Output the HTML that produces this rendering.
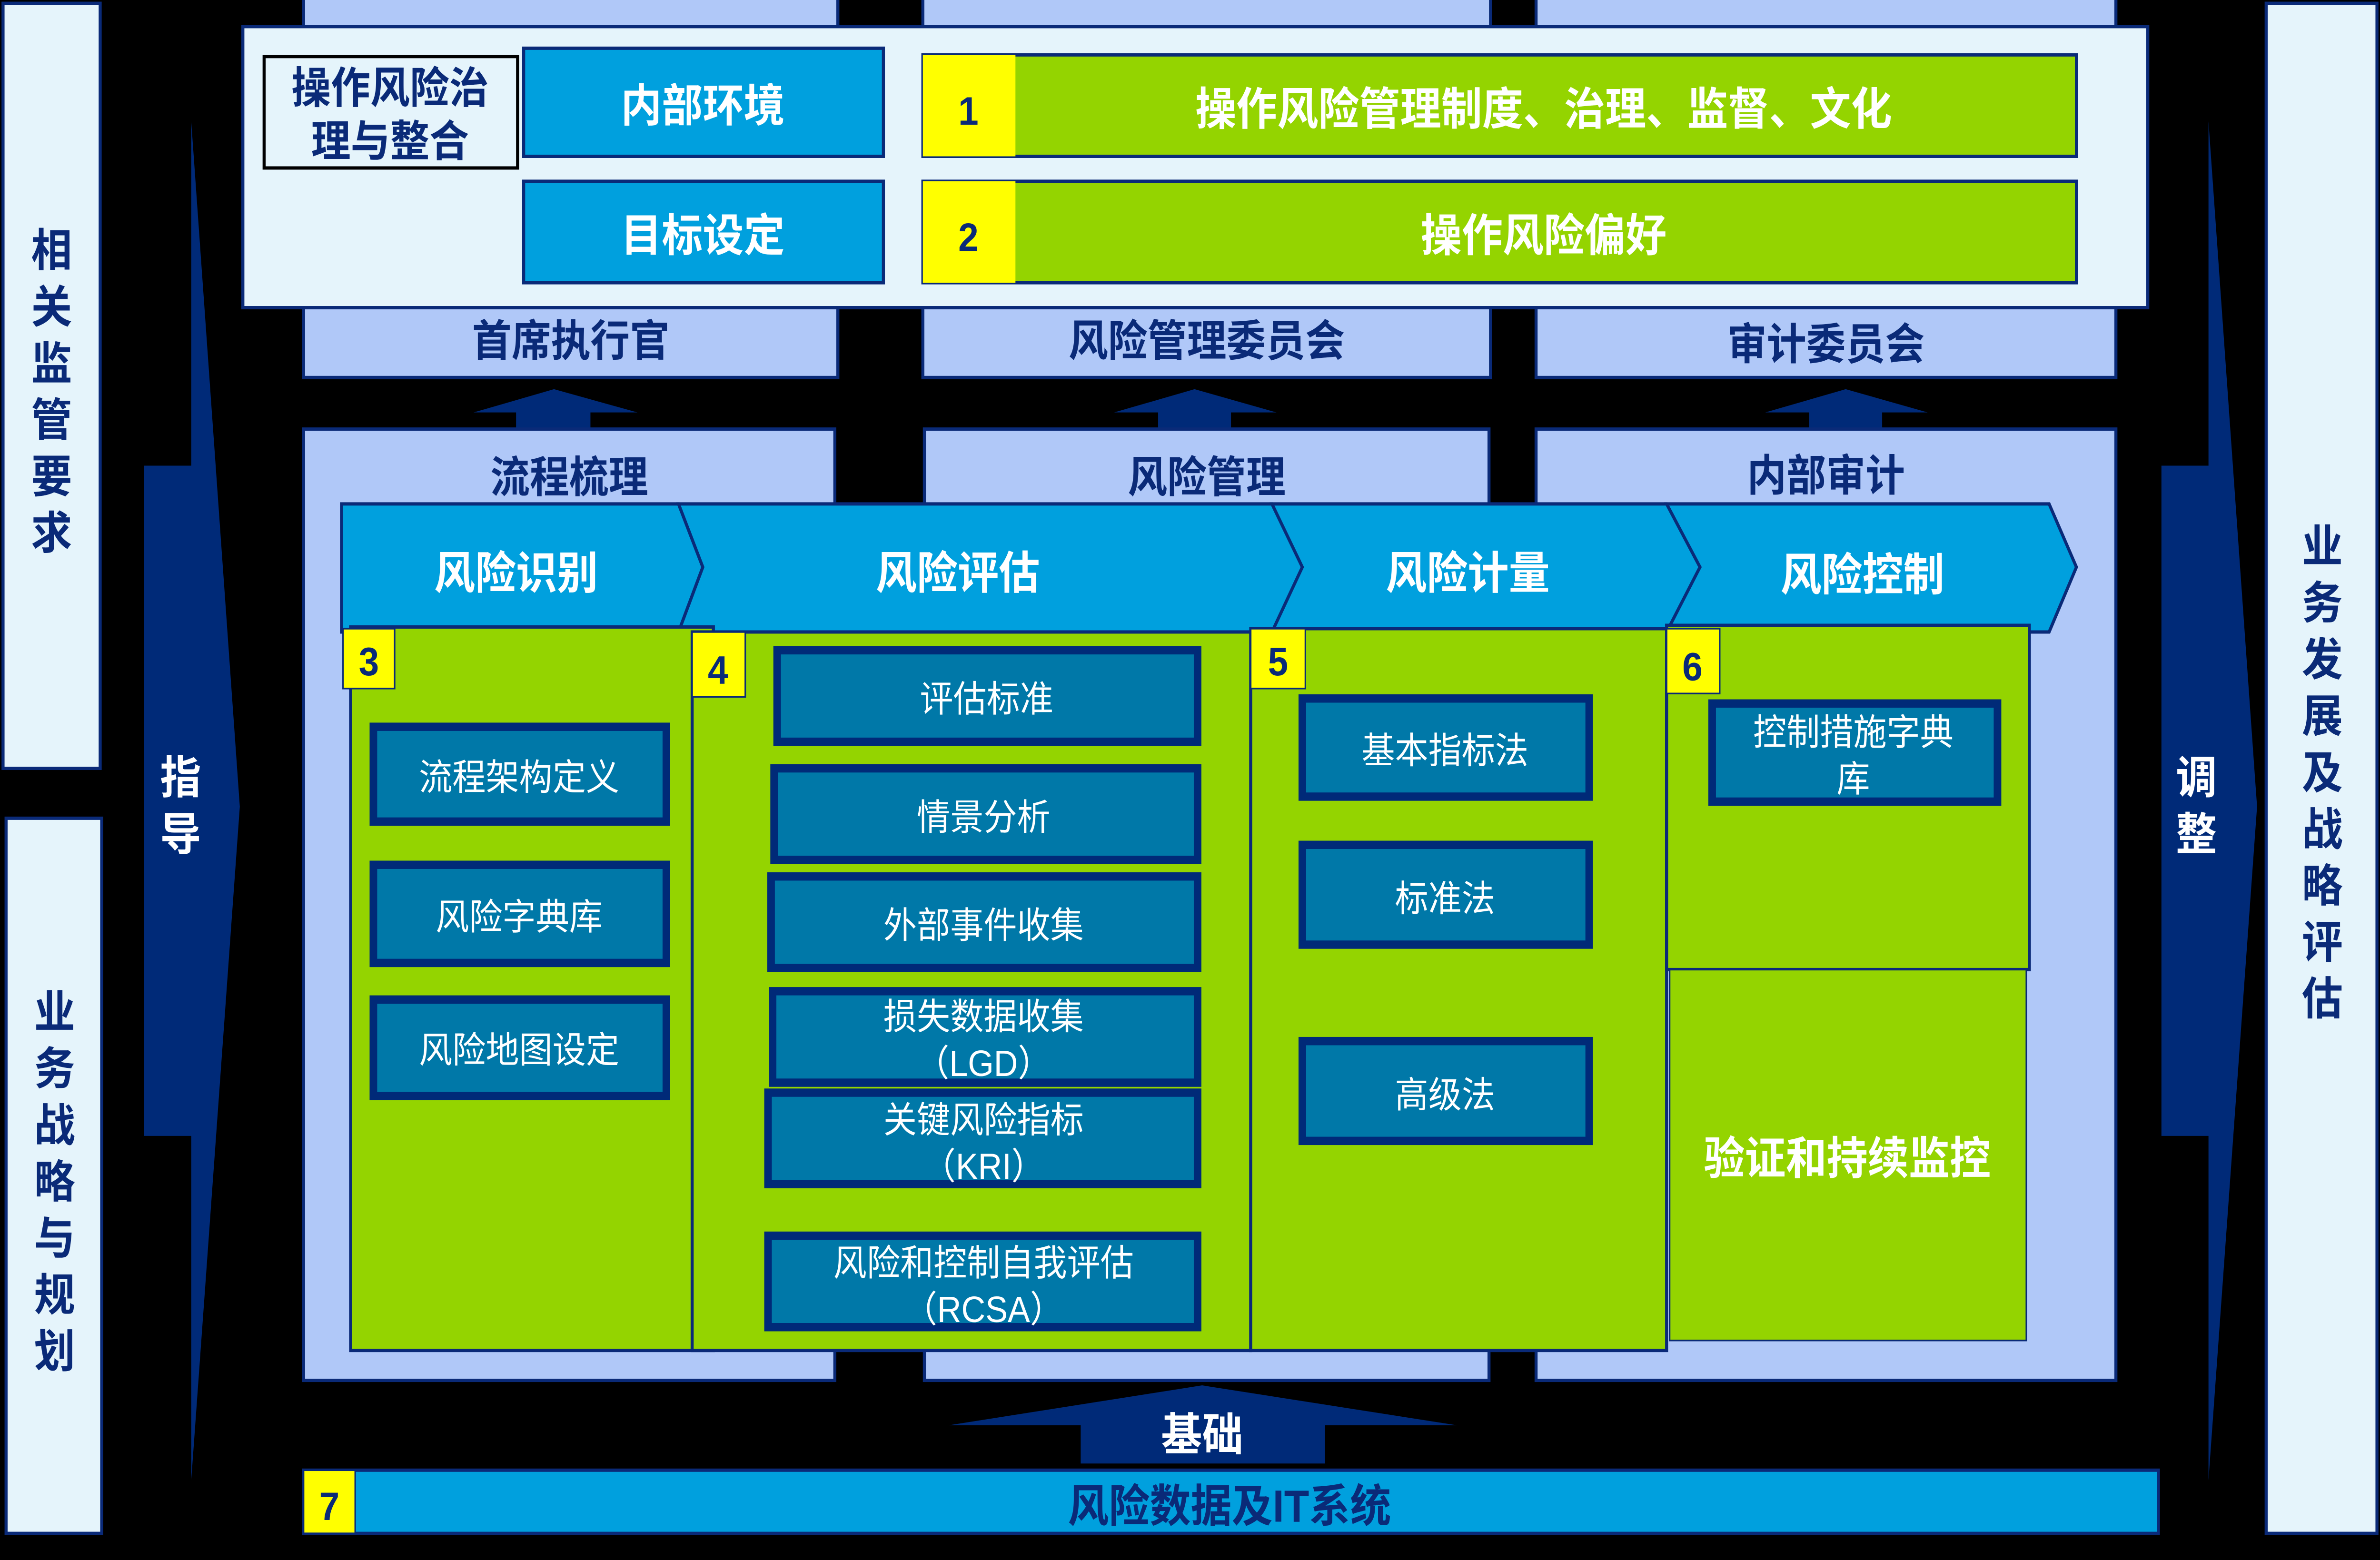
<!DOCTYPE html>
<html><head><meta charset="utf-8"><style>
html,body{margin:0;padding:0;background:#000;overflow:hidden;width:100%;height:100%;}
svg{display:block;width:100vw;height:100vh;}
text{font-family:"Liberation Sans","Noto Sans CJK SC",sans-serif;}
.nv{fill:#0a2a78;font-weight:bold;}
.wb{fill:#fff;font-weight:bold;}
.wt{fill:#fff;}
.bx{fill:#0078a8;stroke:#002a78;stroke-width:5;}
</style></head><body>
<svg viewBox="0 0 1568 938" preserveAspectRatio="none" xmlns="http://www.w3.org/2000/svg">
<rect x="0" y="0" width="1568" height="938" fill="#000"/>
<rect x="2" y="2" width="64" height="460" fill="#e5f4fb" stroke="#0a2a78" stroke-width="2"/>
<g class="nv" font-size="27" text-anchor="middle">
<text x="34" y="160">相</text><text x="34" y="194">关</text><text x="34" y="228">监</text><text x="34" y="262">管</text><text x="34" y="296">要</text><text x="34" y="330">求</text>
</g>
<rect x="4" y="492" width="63" height="430" fill="#e5f4fb" stroke="#0a2a78" stroke-width="2"/>
<g class="nv" font-size="27" text-anchor="middle">
<text x="36" y="618">业</text><text x="36" y="652">务</text><text x="36" y="686">战</text><text x="36" y="720">略</text><text x="36" y="754">与</text><text x="36" y="788">规</text><text x="36" y="822">划</text>
</g>
<rect x="1493" y="2" width="73" height="920" fill="#e5f4fb" stroke="#0a2a78" stroke-width="2"/>
<g class="nv" font-size="27" text-anchor="middle">
<text x="1530" y="338">业</text><text x="1530" y="372">务</text><text x="1530" y="406">发</text><text x="1530" y="440">展</text><text x="1530" y="474">及</text><text x="1530" y="508">战</text><text x="1530" y="542">略</text><text x="1530" y="576">评</text><text x="1530" y="610">估</text>
</g>
<polygon points="95,280 126,280 126,73 158,485 126,890 126,683 95,683" fill="#002a78"/>
<text x="119" y="477" class="wb" font-size="27" text-anchor="middle">指</text>
<text x="119" y="511" class="wb" font-size="27" text-anchor="middle">导</text>
<polygon points="1424,280 1455,280 1455,73 1487,485 1455,890 1455,683 1424,683" fill="#002a78"/>
<text x="1447" y="477" class="wb" font-size="27" text-anchor="middle">调</text>
<text x="1447" y="511" class="wb" font-size="27" text-anchor="middle">整</text>
<g fill="#b0c8f8" stroke="#0a2a78" stroke-width="2">
<rect x="200" y="-2" width="352" height="18"/><rect x="608" y="-2" width="374" height="18"/><rect x="1012" y="-2" width="382" height="18"/>
<rect x="200" y="184" width="352" height="43"/><rect x="608" y="184" width="374" height="43"/><rect x="1012" y="184" width="382" height="43"/>
</g>
<g class="nv" font-size="26" text-anchor="middle">
<text x="376" y="214">首席执行官</text><text x="795" y="214">风险管理委员会</text><text x="1203" y="216">审计委员会</text>
</g>
<rect x="160" y="16" width="1255" height="169" fill="#e5f4fb" stroke="#0a2a78" stroke-width="2"/>
<rect x="174" y="34" width="167" height="67" fill="#e5f4fb" stroke="#000" stroke-width="2"/>
<text x="257" y="62" class="nv" font-size="26" text-anchor="middle">操作风险治</text>
<text x="257" y="94" class="nv" font-size="26" text-anchor="middle">理与整合</text>
<rect x="345" y="29" width="237" height="65" fill="#00a0de" stroke="#0a2a78" stroke-width="2"/>
<text x="463" y="73" class="wb" font-size="27" text-anchor="middle">内部环境</text>
<rect x="345" y="109" width="237" height="61" fill="#00a0de" stroke="#0a2a78" stroke-width="2"/>
<text x="463" y="151" class="wb" font-size="27" text-anchor="middle">目标设定</text>
<rect x="608" y="33" width="760" height="61" fill="#94d400" stroke="#0a2a78" stroke-width="2"/>
<rect x="608" y="33" width="61" height="61" fill="#ffff00"/>
<text x="638" y="75" class="nv" font-size="24" text-anchor="middle">1</text>
<text x="1017" y="75" class="wb" font-size="27" text-anchor="middle">操作风险管理制度、治理、监督、文化</text>
<rect x="608" y="109" width="760" height="61" fill="#94d400" stroke="#0a2a78" stroke-width="2"/>
<rect x="608" y="109" width="61" height="61" fill="#ffff00"/>
<text x="638" y="151" class="nv" font-size="24" text-anchor="middle">2</text>
<text x="1017" y="151" class="wb" font-size="27" text-anchor="middle">操作风险偏好</text>
<g fill="#002a78">
<polygon points="312,248 365,234 420,248 389,248 389,258 340,258 340,248"/>
<polygon points="734,248 787,234 841,248 811,248 811,258 763,258 763,248"/>
<polygon points="1163,248 1216,234 1270,248 1240,248 1240,258 1192,258 1192,248"/>
</g>
<g fill="#b0c8f8" stroke="#0a2a78" stroke-width="2">
<rect x="200" y="258" width="350" height="572"/><rect x="609" y="258" width="372" height="572"/><rect x="1012" y="258" width="382" height="572"/>
</g>
<g class="nv" font-size="26" text-anchor="middle">
<text x="375" y="296">流程梳理</text><text x="795" y="296">风险管理</text><text x="1203" y="295">内部审计</text>
</g>
<g fill="#00a0de" stroke="#0a2a78" stroke-width="2">
<polygon points="1098,303 1350,303 1368,341 1350,380 1098,380 1116,341"/>
<polygon points="838,303 1098,303 1120,341 1098,380 838,380 856,341"/>
<polygon points="447,303 838,303 858,341 838,380 447,380 463,341"/>
<polygon points="225,303 447,303 463,341 447,380 225,380"/>
</g>
<g class="wb" font-size="27" text-anchor="middle">
<text x="340" y="354">风险识别</text><text x="631" y="354">风险评估</text><text x="967" y="354">风险计量</text><text x="1227" y="355">风险控制</text>
</g>
<g fill="#94d400" stroke="#0a2a78" stroke-width="2">
<rect x="231" y="377" width="239" height="435"/>
<rect x="456" y="380" width="368" height="432"/>
<rect x="824" y="378" width="274" height="434"/>
<rect x="1098" y="376" width="239" height="207"/>
<rect x="1100" y="583" width="235" height="223" stroke-width="1"/>
</g>
<g fill="#ffff00" stroke="#0a2a78" stroke-width="1">
<rect x="226" y="378" width="34" height="36"/><rect x="456" y="380" width="35" height="39"/><rect x="824" y="378" width="36" height="36"/><rect x="1098" y="378" width="35" height="39"/>
</g>
<g class="nv" font-size="24" text-anchor="middle">
<text x="243" y="406">3</text><text x="473" y="411">4</text><text x="842" y="406">5</text><text x="1115" y="409">6</text>
</g>
<text x="1217" y="706" class="wb" font-size="27" text-anchor="middle">验证和持续监控</text>
<g>
<rect class="bx" x="246" y="437" width="193" height="57"/>
<rect class="bx" x="246" y="520" width="193" height="59"/>
<rect class="bx" x="246" y="601" width="193" height="58"/>
<rect class="bx" x="512" y="391" width="277" height="55"/>
<rect class="bx" x="510" y="462" width="279" height="55"/>
<rect class="bx" x="508" y="527" width="281" height="55"/>
<rect class="bx" x="509" y="596" width="280" height="55"/>
<rect class="bx" x="506" y="657" width="283" height="55"/>
<rect class="bx" x="506" y="743" width="283" height="55"/>
<rect class="bx" x="858" y="420" width="189" height="59"/>
<rect class="bx" x="858" y="508" width="189" height="60"/>
<rect class="bx" x="858" y="626" width="189" height="60"/>
<rect class="bx" x="1128" y="423" width="188" height="59"/>
</g>
<g class="wt" font-size="22" text-anchor="middle">
<text x="342" y="475">流程架构定义</text>
<text x="342" y="559">风险字典库</text>
<text x="342" y="639">风险地图设定</text>
<text x="650" y="428">评估标准</text>
<text x="648" y="499">情景分析</text>
<text x="648" y="564">外部事件收集</text>
<text x="648" y="619">损失数据收集</text>
<text x="648" y="647">（LGD）</text>
<text x="648" y="681">关键风险指标</text>
<text x="648" y="709">（KRI）</text>
<text x="648" y="767">风险和控制自我评估</text>
<text x="648" y="795">（RCSA）</text>
<text x="952" y="459">基本指标法</text>
<text x="952" y="548">标准法</text>
<text x="952" y="666">高级法</text>
<text x="1221" y="448">控制措施字典</text>
<text x="1221" y="476">库</text>
</g>
<polygon points="625,857 792,833 960,857 873,857 873,880 712,880 712,857" fill="#002a78"/>
<text x="792" y="872" class="wb" font-size="27" text-anchor="middle">基础</text>
<rect x="200" y="884" width="1222" height="38" fill="#00a0de" stroke="#0a2a78" stroke-width="2"/>
<rect x="200" y="884" width="34" height="38" fill="#ffff00" stroke="#0a2a78" stroke-width="1"/>
<text x="217" y="914" class="nv" font-size="24" text-anchor="middle">7</text>
<text x="810" y="915" class="nv" font-size="27" text-anchor="middle">风险数据及IT系统</text>
</svg>
</body></html>
